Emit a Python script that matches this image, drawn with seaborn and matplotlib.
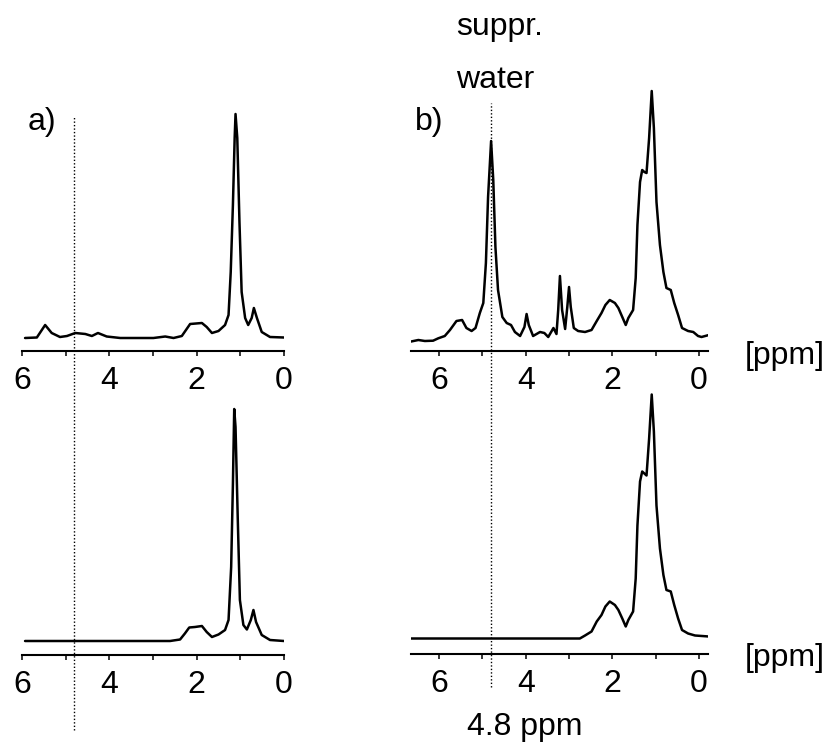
import numpy as np
import pandas as pd
import seaborn as sns
import matplotlib.pyplot as plt

# spectra: chemical shift [ppm] vs intensity (arb. units)
a_top_ppm = [5.93, 5.66, 5.47, 5.32, 5.13, 4.97, 4.78, 4.55, 4.40, 4.26, 4.06, 3.75,
             2.99, 2.72, 2.53, 2.34, 2.15, 1.88, 1.77, 1.65, 1.50, 1.35, 1.27, 1.22,
             1.17, 1.13, 1.11, 1.07, 1.02, 0.97, 0.89, 0.82, 0.74, 0.69, 0.62, 0.51,
             0.32, 0.00]
a_top_int = [0, 0.5, 13, 5, 1, 2, 5, 4, 2, 5, 1.5, 0,
             0, 1.5, 0, 2, 14, 15, 11, 5, 7, 13, 23, 66,
             133, 200, 224, 200, 116, 46, 20, 13, 20, 30, 20, 6,
             1, 0.5]

a_bot_ppm = [5.93, 2.61, 2.38, 2.27, 2.17, 2.04, 1.88, 1.77, 1.65, 1.50, 1.35, 1.27,
             1.21, 1.17, 1.14, 1.11, 1.06, 1.01, 0.93, 0.85, 0.76, 0.70, 0.64, 0.51,
             0.32, 0.00]
a_bot_int = [0, 0, 1.5, 7.5, 13.5, 14, 15, 9, 4, 6.5, 11, 21,
             74, 157, 232, 214, 124, 41, 16, 11.5, 21, 31, 19, 6,
             1, 0]

b_top_ppm = [6.67, 6.48, 6.33, 6.14, 6.02, 5.87, 5.75, 5.60, 5.47, 5.37, 5.25, 5.16,
             5.06, 4.98, 4.92, 4.87, 4.80, 4.75, 4.70, 4.64, 4.54, 4.44, 4.34, 4.25,
             4.13, 4.03, 3.98, 3.93, 3.83, 3.67, 3.57, 3.48, 3.36, 3.29, 3.25, 3.21,
             3.16, 3.09, 3.04, 3.00, 2.96, 2.89, 2.79, 2.63, 2.48, 2.36, 2.25, 2.16,
             2.06, 1.94, 1.86, 1.77, 1.69, 1.63, 1.52, 1.46, 1.42, 1.36, 1.31, 1.26,
             1.21, 1.15, 1.09, 1.04, 0.98, 0.90, 0.82, 0.75, 0.65, 0.57, 0.48, 0.39,
             0.25, 0.13, 0.02, -0.06, -0.23]
b_top_int = [3.3, 5, 4, 4.3, 6.7, 9, 15, 24, 25, 17, 14, 17,
             32, 42, 82, 148, 204, 165, 98, 55, 28, 22, 20, 13,
             9, 18, 31, 20, 9, 13, 12, 8, 17, 11, 35, 69,
             35, 16, 38, 58, 38, 17, 14, 13, 15, 24, 32, 40,
             45, 42, 37, 28, 20, 27, 35, 67, 120, 163, 175, 173,
             172, 207, 254, 217, 143, 100, 73, 57, 55, 42, 30, 17,
             14, 13, 9, 8, 10]

b_bot_ppm = [6.67, 2.75, 2.63, 2.48, 2.36, 2.25, 2.16, 2.06, 1.94, 1.86, 1.77, 1.69,
             1.63, 1.52, 1.46, 1.42, 1.36, 1.31, 1.26, 1.21, 1.15, 1.09, 1.04, 0.98,
             0.90, 0.82, 0.75, 0.65, 0.57, 0.48, 0.39, 0.25, 0.09, -0.23]
b_bot_int = [0, 0, 3, 7, 17, 23.5, 32, 37, 33.5, 28.5, 20, 12,
             18.5, 27, 60, 113, 157, 167, 165, 163, 200, 244, 207, 133,
             90, 63.5, 48.5, 47, 33.5, 20, 8.5, 5, 3, 2]

water_ppm = 4.8
major_ticks = [6, 4, 2, 0]
minor_ticks = [5, 3, 1]

sns.set_theme(style='white', rc={'text.color': 'black', 'xtick.color': 'black',
                                 'axes.edgecolor': 'black'})
plt.rcParams['font.family'] = ['Liberation Sans', 'DejaVu Sans']
FS = 23

W, H = 826, 742
fig = plt.figure(figsize=(W / 100, H / 100), dpi=100)


def add_panel(left, right, top, bottom):
    # box given in pixels of the output image
    ax = fig.add_axes([left / W, 1 - bottom / H, (right - left) / W, (bottom - top) / H])
    ax.set_facecolor('none')
    return ax


panels = [
    (add_panel(22, 284, 105, 351), a_top_ppm, a_top_int, (6, 0), (-13, 233)),
    (add_panel(411, 708, 85, 351), b_top_ppm, b_top_int, (6.65, -0.21), (-6, 260)),
    (add_panel(22, 284, 400, 655), a_bot_ppm, a_bot_int, (6, 0), (-14, 241)),
    (add_panel(411, 708, 385, 654), b_bot_ppm, b_bot_int, (6.65, -0.21), (-15.5, 253.5)),
]

for ax, ppm, inten, xl, yl in panels:
    df = pd.DataFrame({'ppm': ppm, 'I': inten})
    sns.lineplot(data=df, x='ppm', y='I', ax=ax, color='black', lw=1.8, sort=False)
    for ln in ax.lines:
        ln.set_solid_joinstyle('round')
    ax.set_xlim(*xl)
    ax.set_ylim(*yl)
    ax.set(xlabel='', ylabel='')
    ax.set_yticks([])
    ax.set_xticks(major_ticks)
    ax.set_xticks(minor_ticks, minor=True)
    ax.tick_params(axis='x', which='both', direction='out', length=3.6, width=1.1,
                   color='black', labelcolor='black', labelsize=FS, pad=7, bottom=True)
    sns.despine(ax=ax, left=True)
    ax.spines['bottom'].set_color('black')
    ax.spines['bottom'].set_linewidth(1.5)

# dotted marker at the suppressed water resonance, running through both rows
ax_a, ax_b = panels[0][0], panels[1][0]
ax_a.axvline(water_ppm, ymin=-1.541, ymax=0.951, color='black', lw=1,
             ls=(0, (1, 1.5)), clip_on=False)
ax_b.axvline(water_ppm, ymin=-1.263, ymax=0.932, color='black', lw=1,
             ls=(0, (1, 1.5)), clip_on=False)

fig.text(28 / W, 1 - 122 / H, 'a)', fontsize=FS, ha='left', va='center')
fig.text(415 / W, 1 - 122 / H, 'b)', fontsize=FS, ha='left', va='center')
fig.text(456 / W, 1 - 27 / H, 'suppr.', fontsize=FS, ha='left', va='center')
fig.text(456 / W, 1 - 80 / H, 'water', fontsize=FS, ha='left', va='center')
fig.text(525 / W, 1 - 727 / H, '4.8 ppm', fontsize=FS, ha='center', va='center')
fig.text(745 / W, 1 - 356 / H, '[ppm]', fontsize=FS, ha='left', va='center')
fig.text(745 / W, 1 - 658 / H, '[ppm]', fontsize=FS, ha='left', va='center')

fig.savefig('out.png', dpi=100)
